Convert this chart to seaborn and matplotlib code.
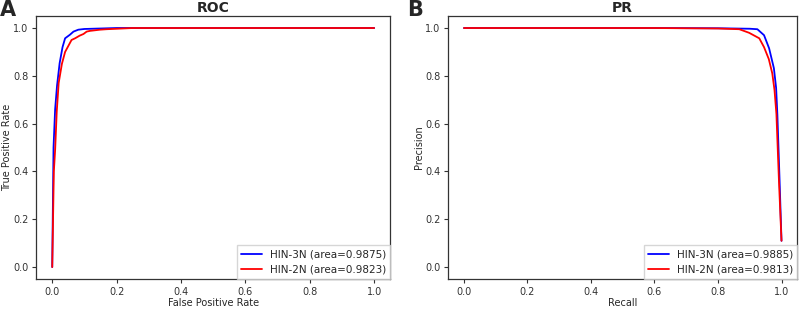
import matplotlib
matplotlib.use("Agg")
import matplotlib.pyplot as plt
import pandas as pd
import seaborn as sns

# ROC curves
roc_fpr_3n = [0.0, 0.004, 0.009, 0.015, 0.023, 0.032, 0.040, 0.055, 0.066, 0.081, 0.10, 0.15, 0.20, 0.40, 0.60, 0.80, 1.0]
roc_tpr_3n = [0.0, 0.50, 0.66, 0.76, 0.853, 0.92, 0.957, 0.972, 0.985, 0.993, 0.996, 0.998, 1.0, 1.0, 1.0, 1.0, 1.0]
roc_fpr_2n = [0.0, 0.005, 0.009, 0.014, 0.020, 0.030, 0.040, 0.050, 0.060, 0.071, 0.085, 0.097, 0.107, 0.117, 0.148, 0.169, 0.25, 0.40, 0.60, 0.80, 1.0]
roc_tpr_2n = [0.0, 0.40, 0.49, 0.65, 0.77, 0.85, 0.90, 0.925, 0.95, 0.957, 0.968, 0.975, 0.985, 0.988, 0.993, 0.995, 1.0, 1.0, 1.0, 1.0, 1.0]

# PR curves
pr_rec_3n = [0.0, 0.20, 0.40, 0.60, 0.80, 0.90, 0.924, 0.945, 0.961, 0.976, 0.983, 0.987, 0.994, 1.0]
pr_prec_3n = [1.0, 1.0, 1.0, 1.0, 0.999, 0.997, 0.995, 0.97, 0.915, 0.832, 0.75, 0.637, 0.36, 0.11]
pr_rec_2n = [0.0, 0.20, 0.40, 0.60, 0.80, 0.867, 0.898, 0.93, 0.945, 0.960, 0.971, 0.978, 0.984, 0.992, 1.0]
pr_prec_2n = [1.0, 1.0, 1.0, 1.0, 0.998, 0.995, 0.98, 0.957, 0.92, 0.87, 0.81, 0.74, 0.64, 0.36, 0.11]

roc_labels = ["HIN-3N (area=0.9875)", "HIN-2N (area=0.9823)"]
pr_labels = ["HIN-3N (area=0.9885)", "HIN-2N (area=0.9813)"]

roc_df = pd.concat([
    pd.DataFrame({"x": roc_fpr_3n, "y": roc_tpr_3n, "model": roc_labels[0]}),
    pd.DataFrame({"x": roc_fpr_2n, "y": roc_tpr_2n, "model": roc_labels[1]}),
])
pr_df = pd.concat([
    pd.DataFrame({"x": pr_rec_3n, "y": pr_prec_3n, "model": pr_labels[0]}),
    pd.DataFrame({"x": pr_rec_2n, "y": pr_prec_2n, "model": pr_labels[1]}),
])

sns.set_style("ticks")
plt.rcParams["font.family"] = ["DejaVu Sans"]
plt.rcParams["axes.edgecolor"] = "#333333"
plt.rcParams["xtick.color"] = "#333333"
plt.rcParams["ytick.color"] = "#333333"

fig = plt.figure(figsize=(8.03, 3.09), dpi=100)
ax1 = fig.add_axes([0.045, 0.097, 0.441, 0.851])
ax2 = fig.add_axes([0.558, 0.097, 0.435, 0.851])

panels = [
    (ax1, roc_df, roc_labels, "ROC", "False Positive Rate", "True Positive Rate"),
    (ax2, pr_df, pr_labels, "PR", "Recall", "Precision"),
]
for ax, df, labels, title, xl, yl in panels:
    sns.lineplot(data=df, x="x", y="y", hue="model", palette=["blue", "red"],
                 hue_order=labels, sort=False, estimator=None, linewidth=1.3, ax=ax)
    ax.set_xlim(-0.05, 1.05)
    ax.set_ylim(-0.05, 1.05)
    ax.set_xticks([0, 0.2, 0.4, 0.6, 0.8, 1.0])
    ax.set_yticks([0, 0.2, 0.4, 0.6, 0.8, 1.0])
    ax.tick_params(labelsize=7, length=3, width=0.8, pad=2.5)
    ax.set_title(title, fontsize=10, fontweight="bold", pad=3)
    ax.set_xlabel(xl, fontsize=7, labelpad=1)
    ax.set_ylabel(yl, fontsize=7, labelpad=1)
    ax.legend(loc="lower right", fontsize=7.5, frameon=True, fancybox=False,
              borderaxespad=0.0, edgecolor="#cccccc")
    for s in ax.spines.values():
        s.set_linewidth(0.9)

fig.text(0.0, 1.0, "A", fontsize=15, fontweight="bold", va="top", ha="left")
fig.text(0.507, 1.0, "B", fontsize=15, fontweight="bold", va="top", ha="left")

fig.savefig("out.png", dpi=100)
